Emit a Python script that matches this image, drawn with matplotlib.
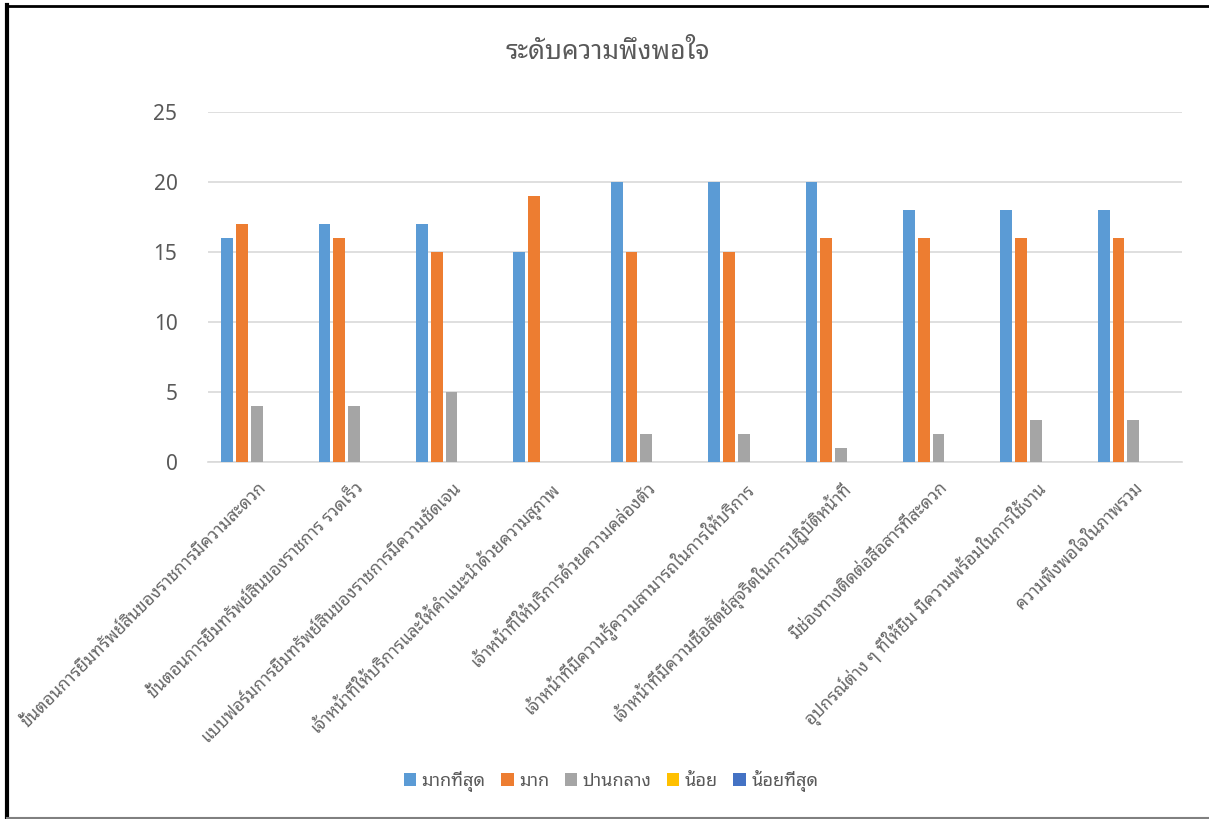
import matplotlib
matplotlib.use('Agg')
import matplotlib.pyplot as plt
from matplotlib.lines import Line2D
import numpy as np

plt.rcParams['font.family'] = ['Noto Sans', 'Noto Sans Thai Looped']
thai = ['Noto Sans Thai Looped', 'Noto Sans']

categories = [
    'ขั้นตอนการยืมทรัพย์สินของราชการมีความสะดวก',
    'ขั้นตอนการยืมทรัพย์สินของราชการ รวดเร็ว',
    'แบบฟอร์มการยืมทรัพย์สินของราชการมีความชัดเจน',
    'เจ้าหน้าที่ให้บริการและให้คำแนะนำด้วยความสุภาพ',
    'เจ้าหน้าที่ให้บริการด้วยความคล่องตัว',
    'เจ้าหน้าที่มีความรู้ความสามารถในการให้บริการ',
    'เจ้าหน้าที่มีความซื่อสัตย์สุจริตในการปฏิบัติหน้าที่',
    'มีช่องทางติดต่อสื่อสารที่สะดวก',
    'อุปกรณ์ต่าง ๆ ที่ให้ยืม มีความพร้อมในการใช้งาน',
    'ความพึงพอใจในภาพรวม',
]
series_names = ['มากที่สุด', 'มาก', 'ปานกลาง', 'น้อย', 'น้อยที่สุด']
most = [16, 17, 17, 15, 20, 20, 20, 18, 18, 18]
much = [17, 16, 15, 19, 15, 15, 16, 16, 16, 16]
medium = [4, 4, 5, 0, 2, 2, 1, 2, 3, 3]
little = [0, 0, 0, 0, 0, 0, 0, 0, 0, 0]
least = [0, 0, 0, 0, 0, 0, 0, 0, 0, 0]
colors = ['#5B9BD5', '#ED7D31', '#A5A5A5', '#FFC000', '#4472C4']

W, H = 1209, 819
fig = plt.figure(figsize=(W / 100, H / 100), dpi=100)
ax = fig.add_axes([208 / W, 1 - 462 / H, (1182 - 208) / W, (462 - 112) / H])

x = np.arange(len(categories))
slot = 0.152
width = 0.123
for k, (vals, name, c) in enumerate(zip([most, much, medium, little, least],
                                        series_names, colors)):
    ax.bar(x + (k - 2) * slot, vals, width, color=c, label=name, zorder=3)

ax.set_xlim(-0.5, len(categories) - 0.5)
ax.set_ylim(0, 25)
ax.set_yticks(range(0, 26, 5))
ax.yaxis.grid(True, color='#D9D9D9', linewidth=1.2, zorder=0)
for s in ['top', 'right', 'left']:
    ax.spines[s].set_visible(False)
ax.spines['bottom'].set_color('#D9D9D9')
ax.spines['bottom'].set_linewidth(1.2)
ax.tick_params(axis='y', length=0, pad=22, labelsize=15, labelcolor='#595959')
ax.tick_params(axis='x', length=0, pad=12)
ax.set_xticks(x)
ax.set_xticklabels(categories, rotation=45, ha='right', rotation_mode='anchor',
                   fontsize=12.5, color='#666666', family=thai)

fig.text(608 / W, 1 - 52 / H, 'ระดับความพึงพอใจ', ha='center', va='center',
         fontsize=19, color='#595959', family=thai)

leg = fig.legend(loc='center', bbox_to_anchor=(611 / W, 1 - 781 / H), ncol=5,
                 frameon=False, handlelength=0.7, handleheight=0.7,
                 handletextpad=0.3, columnspacing=0.85,
                 prop={'family': thai, 'size': 13})
for t in leg.get_texts():
    t.set_color('#595959')

# frame around the chart
fig.add_artist(Line2D([7 / W, 1], [1 - 5.5 / H, 1 - 5.5 / H], color='black', linewidth=2))
fig.add_artist(Line2D([7 / W, 7 / W], [1 - 5 / H, 1 - 817 / H], color='black', linewidth=3))
fig.add_artist(Line2D([7 / W, 1], [1 - 817.5 / H, 1 - 817.5 / H], color='#808080', linewidth=1.5))

fig.savefig('out.png', dpi=100)
